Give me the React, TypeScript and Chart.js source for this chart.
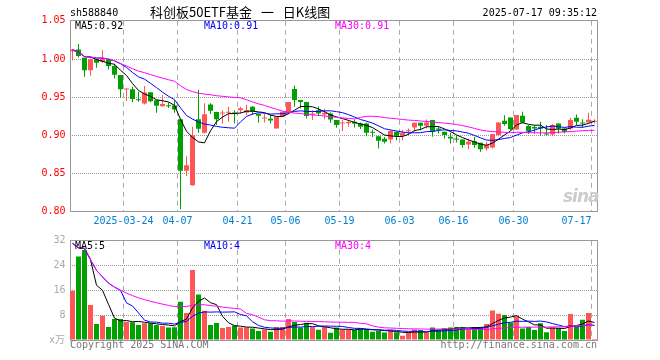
import React, { useEffect, useRef } from 'react';
import { Chart, registerables } from 'chart.js';

Chart.register(...registerables);

const MONO = '"DejaVu Sans Mono", monospace';

// trading days shown (2025)
const dates = [
  '03-11','03-12','03-13','03-14','03-17','03-18','03-19','03-20','03-21','03-24',
  '03-25','03-26','03-27','03-28','03-31','04-01','04-02','04-03','04-07','04-08',
  '04-09','04-10','04-11','04-14','04-15','04-16','04-17','04-18','04-21','04-22',
  '04-23','04-24','04-25','04-28','04-29','04-30','05-06','05-07','05-08','05-09',
  '05-12','05-13','05-14','05-15','05-16','05-19','05-20','05-21','05-22','05-23',
  '05-26','05-27','05-28','05-29','05-30','06-03','06-04','06-05','06-06','06-09',
  '06-10','06-11','06-12','06-13','06-16','06-17','06-18','06-19','06-20','06-23',
  '06-24','06-25','06-26','06-27','06-30','07-01','07-02','07-03','07-04','07-07',
  '07-08','07-09','07-10','07-11','07-14','07-15','07-16','07-17',
];

const axisDates = ['03-24', '04-07', '04-21', '05-06', '05-19', '06-03', '06-16', '06-30', '07-17'];

const opens = [
  1.010, 1.0125, 1.0016, 0.9854, 0.9994, 0.9963, 0.9994, 0.9907, 0.979, 0.960,
  0.9605, 0.947, 0.9418, 0.9566, 0.9461, 0.9383, 0.9392, 0.9392, 0.9213, 0.8536,
  0.8349, 0.9213, 0.9034, 0.9405, 0.9305, 0.9288, 0.9297, 0.930, 0.933, 0.9301,
  0.9375, 0.928, 0.9222, 0.9218, 0.909, 0.9244, 0.9296, 0.9606, 0.9462, 0.9436,
  0.927, 0.933, 0.9274, 0.9287, 0.920, 0.9157, 0.916, 0.9178, 0.9157, 0.9157,
  0.9047, 0.899, 0.8956, 0.8947, 0.9047, 0.8995, 0.9055, 0.9104, 0.9165, 0.9126,
  0.920, 0.9091, 0.9047, 0.8982, 0.896, 0.8947, 0.8882, 0.8925, 0.8903, 0.8829,
  0.884, 0.9004, 0.9191, 0.9235, 0.9078, 0.9257, 0.9122, 0.911, 0.9113, 0.9026,
  0.9013, 0.9156, 0.9091, 0.9091, 0.923, 0.917, 0.917, 0.918,
];
const highs = [
  1.0125, 1.0195, 1.002, 1.0007, 0.9998, 1.0116, 1.000, 0.9933, 0.979, 0.9614,
  0.9636, 0.957, 0.9645, 0.9566, 0.9465, 0.953, 0.943, 0.946, 0.922, 0.8728,
  0.9112, 0.9593, 0.942, 0.942, 0.931, 0.933, 0.9375, 0.933, 0.9375, 0.940,
  0.938, 0.9287, 0.9288, 0.9266, 0.9244, 0.931, 0.9436, 0.965, 0.9462, 0.944,
  0.933, 0.938, 0.935, 0.930, 0.920, 0.920, 0.920, 0.9209, 0.917, 0.917,
  0.9078, 0.899, 0.898, 0.907, 0.905, 0.907, 0.9091, 0.917, 0.917, 0.9209,
  0.920, 0.9113, 0.905, 0.9034, 0.8995, 0.895, 0.896, 0.8982, 0.8905, 0.8916,
  0.9017, 0.917, 0.9265, 0.9235, 0.9266, 0.931, 0.9135, 0.9135, 0.9178, 0.9135,
  0.915, 0.9157, 0.9104, 0.923, 0.9274, 0.921, 0.9296, 0.921,
];
const lows = [
  0.998, 1.002, 0.9767, 0.978, 0.9885, 0.995, 0.9863, 0.9745, 0.9496, 0.945,
  0.9435, 0.944, 0.9405, 0.9435, 0.9296, 0.9374, 0.936, 0.9296, 0.8034, 0.847,
  0.834, 0.9034, 0.9025, 0.928, 0.9135, 0.9156, 0.918, 0.9157, 0.9287, 0.9266,
  0.9266, 0.917, 0.917, 0.9156, 0.909, 0.9244, 0.9285, 0.9375, 0.9353, 0.9222,
  0.920, 0.9253, 0.9213, 0.9165, 0.910, 0.9056, 0.9113, 0.9104, 0.9083, 0.899,
  0.898, 0.8829, 0.8895, 0.8895, 0.8938, 0.8938, 0.9004, 0.9047, 0.9069, 0.9091,
  0.8982, 0.9026, 0.896, 0.8895, 0.8908, 0.8838, 0.882, 0.8838, 0.8785, 0.8799,
  0.883, 0.899, 0.9126, 0.907, 0.907, 0.9157, 0.9017, 0.9026, 0.8995, 0.900,
  0.8995, 0.9026, 0.9026, 0.907, 0.9135, 0.9104, 0.917, 0.9157,
];
const closes = [
  1.0125, 1.004, 0.9854, 0.9998, 0.995, 1.0007, 0.991, 0.9793, 0.9605, 0.961,
  0.9475, 0.946, 0.9562, 0.9448, 0.9387, 0.941, 0.938, 0.934, 0.8536, 0.861,
  0.9003, 0.9086, 0.9278, 0.9322, 0.9213, 0.930, 0.931, 0.9285, 0.9357, 0.933,
  0.9309, 0.9257, 0.9235, 0.9196, 0.9244, 0.9309, 0.9436, 0.9462, 0.9436, 0.9253,
  0.9288, 0.9288, 0.9296, 0.9209, 0.9135, 0.917, 0.9174, 0.9157, 0.9113, 0.9034,
  0.9034, 0.893, 0.8916, 0.9056, 0.8995, 0.9034, 0.9068, 0.9165, 0.9126, 0.917,
  0.9047, 0.9074, 0.9004, 0.896, 0.8947, 0.8873, 0.8916, 0.8873, 0.882, 0.8873,
  0.9017, 0.917, 0.9148, 0.9082, 0.9266, 0.917, 0.9056, 0.9091, 0.9091, 0.9013,
  0.9135, 0.9091, 0.9047, 0.920, 0.9178, 0.9157, 0.9204, 0.9191,
];
// volume, 万
const volumes = [
  15.9, 26.9, 29.0, 11.3, 5.2, 7.8, 4.2, 6.8, 6.8, 5.9,
  5.7, 4.8, 5.4, 5.4, 4.8, 4.5, 4.0, 4.1, 12.3, 8.7,
  22.6, 14.7, 9.4, 4.8, 5.5, 3.9, 4.2, 4.7, 4.0, 4.0,
  3.7, 2.9, 3.4, 2.7, 4.2, 4.2, 6.8, 5.8, 4.0, 5.6,
  4.2, 3.3, 4.3, 2.3, 4.0, 3.4, 3.4, 3.2, 3.8, 3.4,
  2.7, 2.9, 2.4, 3.2, 2.5, 1.4, 2.4, 3.4, 3.2, 2.4,
  4.0, 3.2, 3.8, 4.0, 4.2, 4.2, 3.4, 4.2, 4.2, 5.2,
  9.5, 8.5, 8.1, 5.6, 7.7, 3.7, 4.2, 3.2, 5.4, 2.5,
  4.0, 3.8, 2.9, 8.4, 4.2, 6.5, 8.7, 0.3,
];
// the day before the first shown bar (03-10), used only by the moving averages
const prevClose = 1.011;
const prevVolume = 46.4;

const UP = '#ff5555';
const DOWN = '#00a000';
const GRID = '#aaaaaa';

function movingAverage(values: number[], prev: number, n: number): number[] {
  const all = [prev, ...values];
  return values.map((_, i) => {
    const end = i + 2;
    const start = Math.max(0, end - n);
    let s = 0;
    for (let k = start; k < end; k++) s += all[k];
    return s / (end - start);
  });
}

const labelIdx = new Set(axisDates.map((d) => dates.indexOf(d)));
const firstLabel = dates.indexOf(axisDates[0]);
const lastLabel = dates.indexOf(axisDates[axisDates.length - 1]);

const framePlugin = {
  id: 'frame',
  beforeDatasetsDraw(chart: any) {
    const { ctx, chartArea: a } = chart;
    const l = Math.round(a.left) + 0.5;
    const r = Math.round(a.right) - 0.5;
    const t = Math.floor(a.top) + 0.5;
    const b = Math.floor(a.bottom) + 0.5;
    ctx.save();
    ctx.setLineDash([]);
    ctx.strokeStyle = '#999999';
    ctx.lineWidth = 1;
    ctx.strokeRect(l, t, r - l, b - t);
    ctx.restore();
  },
};

const xGridColor = (ctx: any) =>
  ctx.index !== undefined && labelIdx.has(ctx.index) && ctx.type === 'tick' ? GRID : 'rgba(0,0,0,0)';

function lineDs(label: string, data: number[], color: string, order: number) {
  return {
    type: 'line' as const,
    label,
    data,
    borderColor: color,
    borderWidth: 1,
    pointRadius: 0,
    tension: 0,
    fill: false,
    order,
  };
}

const upDown = closes.map((c, i) => (c >= opens[i] ? UP : DOWN));

const ma5 = movingAverage(closes, prevClose, 5);
const ma10 = movingAverage(closes, prevClose, 10);
const ma30 = movingAverage(closes, prevClose, 30);
const vma5 = movingAverage(volumes, prevVolume, 5);
const vma10 = movingAverage(volumes, prevVolume, 10);
const vma30 = movingAverage(volumes, prevVolume, 30);

const last = dates.length - 1;

export default function App() {
  const priceRef = useRef<HTMLCanvasElement>(null);
  const volRef = useRef<HTMLCanvasElement>(null);

  useEffect(() => {
    const font = { family: MONO, size: 10 };
    const priceChart = new Chart(priceRef.current as HTMLCanvasElement, {
      type: 'bar',
      data: {
        labels: dates,
        datasets: [
          lineDs('MA30', ma30, '#ff00ff', 0),
          lineDs('MA10', ma10, '#0000ff', 1),
          lineDs('MA5', ma5, '#000000', 2),
          {
            label: 'body',
            data: opens.map((o, i) => [o, closes[i]]),
            backgroundColor: upDown,
            barThickness: 5,
            grouped: false,
            minBarLength: 1,
            inflateAmount: 0,
            order: 3,
          } as any,
          {
            label: 'wick',
            data: lows.map((l, i) => [l, highs[i]]),
            backgroundColor: upDown,
            barThickness: 1,
            grouped: false,
            inflateAmount: 0,
            order: 4,
          } as any,
        ],
      },
      options: {
        responsive: false,
        maintainAspectRatio: false,
        animation: false,
        events: [],
        layout: { padding: { left: 0, right: 62.5, top: 20.8, bottom: 128.2 } },
        plugins: { legend: { display: false }, tooltip: { enabled: false } },
        scales: {
          x: {
            type: 'category',
            offset: true,
            grid: { offset: true, color: xGridColor, drawTicks: false, lineWidth: 1 },
            border: { display: false, dash: [5, 4] },
            ticks: {
              autoSkip: false,
              maxRotation: 0,
              minRotation: 0,
              color: '#0080d0',
              font,
              padding: 4,
              labelOffset: -3,
              callback: (_v: any, index: number) => {
                if (!labelIdx.has(index)) return '';
                const d = dates[index];
                if (index === firstLabel) return '2025-' + d;
                if (index === lastLabel) return d + '\u00a0\u00a0\u00a0\u00a0\u00a0';
                return d;
              },
            },
            afterFit: (s: any) => {
              s.height = 20;
            },
          },
          y: {
            min: 0.8,
            max: 1.05,
            grid: {
              drawTicks: false,
              color: (ctx: any) => {
                const v = ctx.tick ? ctx.tick.value : NaN;
                return v > 0.801 && v < 1.049 ? '#999999' : 'rgba(0,0,0,0)';
              },
            },
            border: { display: false, dash: [1, 1] },
            ticks: {
              stepSize: 0.05,
              color: '#ff0000',
              font,
              padding: 4,
              callback: (v: any) => Number(v).toFixed(2),
            },
            afterFit: (s: any) => {
              s.width = 69.5;
            },
          },
        },
      } as any,
      plugins: [framePlugin],
    });

    const volChart = new Chart(volRef.current as HTMLCanvasElement, {
      type: 'bar',
      data: {
        labels: dates,
        datasets: [
          lineDs('MA30', vma30, '#ff00ff', 0),
          lineDs('MA10', vma10, '#0000ff', 1),
          lineDs('MA5', vma5, '#000000', 2),
          {
            label: 'volume',
            data: volumes,
            backgroundColor: upDown,
            barThickness: 5,
            grouped: false,
            inflateAmount: 0,
            order: 3,
          } as any,
        ],
      },
      options: {
        responsive: false,
        maintainAspectRatio: false,
        animation: false,
        events: [],
        layout: { padding: { left: 0, right: 62.5, top: 240.8, bottom: 20 } },
        plugins: { legend: { display: false }, tooltip: { enabled: false } },
        scales: {
          x: {
            type: 'category',
            offset: true,
            grid: { offset: true, color: xGridColor, drawTicks: false, lineWidth: 1 },
            border: { display: false, dash: [5, 4] },
            ticks: { display: false },
            afterFit: (s: any) => {
              s.height = 0;
            },
          },
          y: {
            min: 0,
            max: 32,
            grid: {
              drawTicks: false,
              color: (ctx: any) => {
                const v = ctx.tick ? ctx.tick.value : NaN;
                return v > 0 && v < 32 ? '#999999' : 'rgba(0,0,0,0)';
              },
            },
            border: { display: false, dash: [1, 1] },
            ticks: {
              stepSize: 8,
              color: '#aaaaaa',
              font,
              padding: 4,
              callback: (v: any) => (Number(v) === 0 ? '' : String(v)),
            },
            afterFit: (s: any) => {
              s.width = 69.5;
            },
          },
        },
      } as any,
      plugins: [framePlugin],
    });

    return () => {
      priceChart.destroy();
      volChart.destroy();
    };
  }, []);

  const txt: React.CSSProperties = {
    position: 'absolute',
    fontFamily: MONO,
    fontSize: 10,
    lineHeight: '10px',
    whiteSpace: 'pre',
    color: '#000',
  };

  return (
    <div
      style={{
        position: 'fixed',
        left: 0,
        top: 0,
        width: 660,
        height: 360,
        background: '#fff',
        overflow: 'hidden',
      }}
    >
      <canvas ref={priceRef} width={660} height={360} style={{ position: 'absolute', left: 0, top: 0, width: 660, height: 360 }} />
      <canvas ref={volRef} width={660} height={360} style={{ position: 'absolute', left: 0, top: 0, width: 660, height: 360 }} />

      <div style={{ ...txt, left: 70, top: 8 }}>sh588840</div>
      <div
        style={{
          position: 'absolute',
          left: 150,
          top: 5,
          fontFamily: '"Noto Sans CJK SC", sans-serif',
          fontSize: 13,
          lineHeight: '13px',
          whiteSpace: 'pre',
          wordSpacing: 6,
          color: '#000',
        }}
      >
        科创板50ETF基金 一 日K线图
      </div>
      <div style={{ ...txt, right: 63, top: 8 }}>2025-07-17 09:35:12</div>

      <div style={{ ...txt, left: 75, top: 21 }}>{'MA5:' + ma5[last].toFixed(2)}</div>
      <div style={{ ...txt, left: 204, top: 21, color: '#0000ff' }}>{'MA10:' + ma10[last].toFixed(2)}</div>
      <div style={{ ...txt, left: 335, top: 21, color: '#ff00ff' }}>{'MA30:' + ma30[last].toFixed(2)}</div>

      <div style={{ ...txt, left: 75, top: 241 }}>{'MA5:' + Math.floor(vma5[last])}</div>
      <div style={{ ...txt, left: 204, top: 241, color: '#0000ff' }}>{'MA10:' + Math.floor(vma10[last])}</div>
      <div style={{ ...txt, left: 335, top: 241, color: '#ff00ff' }}>{'MA30:' + Math.floor(vma30[last])}</div>

      <div style={{ ...txt, left: 49, top: 335, color: '#aaaaaa', fontFamily: '"DejaVu Sans Mono", "Noto Sans CJK SC", monospace' }}>x万</div>

      <div
        style={{
          position: 'absolute',
          left: 563,
          top: 188,
          fontFamily: '"DejaVu Sans", sans-serif',
          fontSize: 17,
          fontWeight: 'bold',
          fontStyle: 'italic',
          lineHeight: '17px',
          color: '#cccccc',
          letterSpacing: -1,
        }}
      >
        sina
      </div>

      <div style={{ ...txt, left: 70, top: 340, color: '#777777' }}>Copyright 2025 SINA.COM</div>
      <div style={{ ...txt, right: 63, top: 340, color: '#777777' }}>http://finance.sina.com.cn</div>
    </div>
  );
}
